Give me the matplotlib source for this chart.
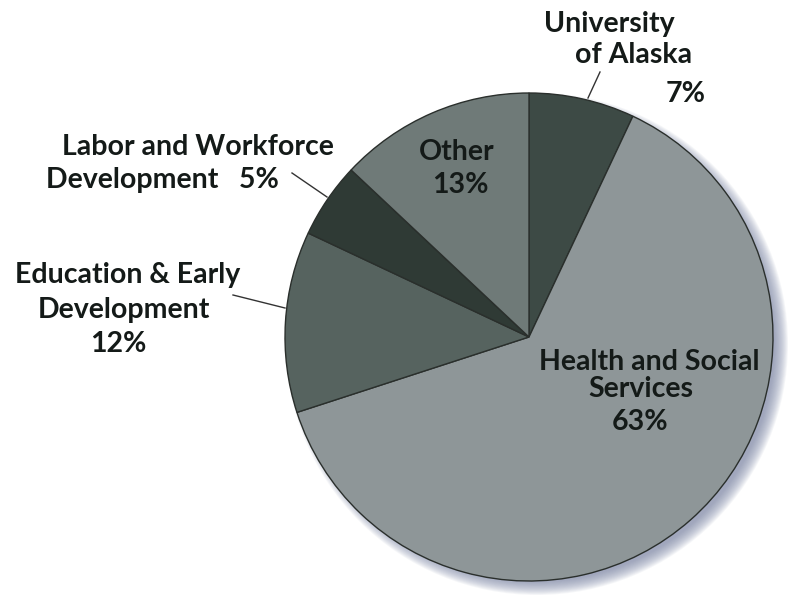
import numpy as np
import matplotlib.pyplot as plt
from matplotlib.patches import Circle

# state budget shares by department
labels = ["University of Alaska", "Health and Social Services",
          "Education & Early Development", "Labor and Workforce Development", "Other"]
shares = [7, 63, 12, 5, 13]
colors = ["#3d4a45", "#8e9698", "#56635f", "#2f3a35", "#6f7a78"]

W, H = 788, 599
fig = plt.figure(figsize=(W / 100, H / 100), dpi=100)
ax = fig.add_axes([0, 0, 1, 1])

cx, cy, r = 529, H - 337, 244

# soft drop shadow
for k in range(16):
    ax.add_patch(Circle((cx + 8, cy - 7), r + 7 - k * 0.9, color="#7f86a6",
                        alpha=0.07, lw=0, zorder=0))

ax.pie(shares, colors=colors, startangle=90, counterclock=False,
       center=(cx, cy), radius=r, frame=True,
       wedgeprops=dict(edgecolor="#2a2f2c", linewidth=1.0))
ax.set_xlim(0, W)
ax.set_ylim(0, H)
ax.set_aspect("equal")
ax.axis("off")

font = dict(family=["Lato", "DejaVu Sans"], fontweight="bold", fontsize=20.5,
            color="#141a18", va="baseline", ha="center")

def y(v):
    return H - v

def line(x, yb, s):
    ax.text(x, y(yb), s, **font)

# outside labels
line(609, 32, "University")
line(634, 63, "of Alaska")
line(686, 102, f"{shares[0]}%")
ax.plot([588, 600], [y(98), y(72)], color="#333", lw=1)

line(198, 155, "Labor and Workforce")
line(162, 188, f"Development   {shares[3]}%")
ax.plot([292, 327], [y(173), y(197)], color="#333", lw=1)

line(128, 283, "Education & Early")
line(124, 318, "Development")
line(118, 352, f"{shares[2]}%")
ax.plot([233, 285], [y(295), y(308)], color="#333", lw=1)

# inside labels
line(457, 160, "Other")
line(460, 193, f"{shares[4]}%")
line(649, 370, "Health and Social")
line(641, 397, "Services")
line(640, 430, f"{shares[1]}%")

fig.savefig("out.png", dpi=100)
